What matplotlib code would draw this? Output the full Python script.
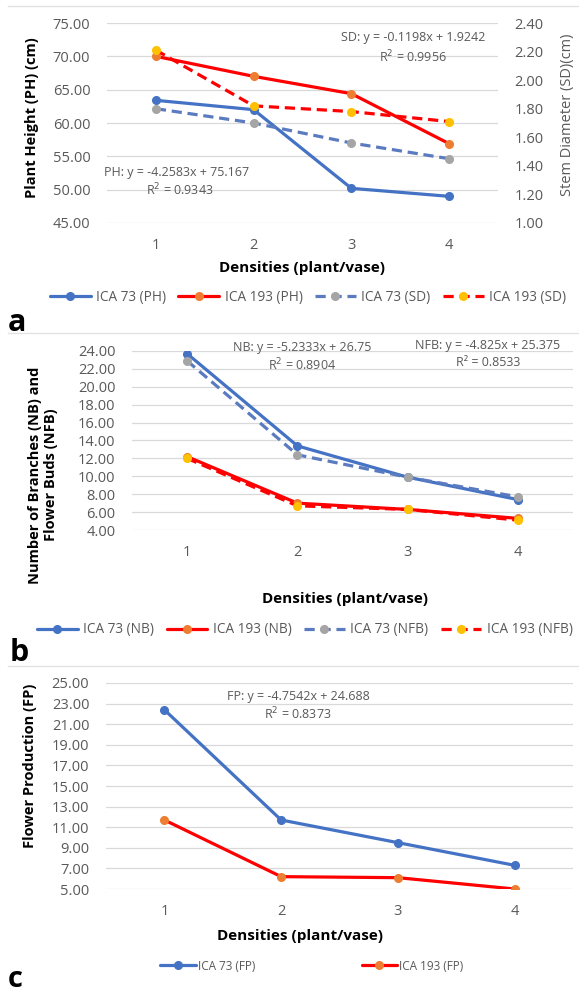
import matplotlib
matplotlib.use('Agg')
import matplotlib.pyplot as plt
from matplotlib.lines import Line2D
from matplotlib.ticker import FormatStrFormatter, FixedLocator
import numpy as np

plt.rcParams['font.family'] = ['Open Sans', 'DejaVu Sans']

# ---------------- data ----------------
densities = ['1', '2', '3', '4']
ph_ica73 = [63.4, 62.0, 50.2, 49.0]
ph_ica193 = [70.0, 67.0, 64.4, 56.9]
sd_ica73 = [1.80, 1.70, 1.56, 1.45]
sd_ica193 = [2.21, 1.82, 1.78, 1.71]
nb_ica73 = [23.7, 13.4, 9.9, 7.4]
nb_ica193 = [12.2, 7.0, 6.3, 5.3]
nfb_ica73 = [22.9, 12.4, 9.9, 7.7]
nfb_ica193 = [12.0, 6.7, 6.3, 5.1]
fp_ica73 = [22.4, 11.7, 9.5, 7.3]
fp_ica193 = [11.7, 6.2, 6.1, 5.0]

ph_ticks = [45, 50, 55, 60, 65, 70, 75]
sd_ticks = [1.0, 1.2, 1.4, 1.6, 1.8, 2.0, 2.2, 2.4]
nb_ticks = [4, 6, 8, 10, 12, 14, 16, 18, 20, 22, 24]
fp_ticks = [5, 7, 9, 11, 13, 15, 17, 19, 21, 23, 25]

# ---------------- style ----------------
BLUE = '#4472C4'
BLUE_D = '#5A7BBF'
RED = '#FF0000'
ORANGE = '#ED7D31'
GRAY = '#A5A5A5'
YELLOW = '#FFC000'
TXT = '#595959'
GRID = '#D9D9D9'

W, H = 579, 996
fig = plt.figure(figsize=(W / 100, H / 100), dpi=100)


def rect(x0, y0, x1, y1):
    return [x0 / W, 1 - y1 / H, (x1 - x0) / W, (y1 - y0) / H]


def fx(x):
    return x / W


def fy(y):
    return 1 - y / H


def style_ax(ax, ticks, ylim, tick_fs=10.5):
    ax.set_xlim(-0.5, 3.5)
    ax.set_ylim(*ylim)
    ax.set_xticks(range(len(densities)))
    ax.set_xticklabels(densities)
    ax.yaxis.set_major_locator(FixedLocator(ticks))
    ax.yaxis.set_major_formatter(FormatStrFormatter('%.2f'))
    ax.grid(axis='y', color=GRID, lw=0.9)
    ax.set_axisbelow(True)
    for s in ax.spines.values():
        s.set_visible(False)
    ax.tick_params(length=0, labelsize=tick_fs, labelcolor=TXT)
    ax.tick_params(axis='y', pad=12)
    ax.tick_params(axis='x', pad=11)


def series(ax, y, lc, mc, dashed=False, label=None):
    x = np.arange(len(densities))
    kw = dict(color=lc, lw=2.3, marker='o', ms=5.5, mfc=mc, mec=mc,
              label=label, zorder=3, solid_capstyle='round')
    if dashed:
        kw['dashes'] = (3.2, 1.8)
    return ax.plot(x, y, **kw)[0]


def border(y):
    fig.add_artist(Line2D([fx(8), fx(579)], [fy(y), fy(y)], color='#E3E3E3', lw=1.0))


# ---------------- panel a ----------------
border(6)
axa = fig.add_axes(rect(107, 23, 498, 223))
style_ax(axa, ph_ticks, (45, 75))
axa2 = axa.twinx()
axa2.set_ylim(1.0, 2.4)
axa2.yaxis.set_major_locator(FixedLocator(sd_ticks))
axa2.yaxis.set_major_formatter(FormatStrFormatter('%.2f'))
for s in axa2.spines.values():
    s.set_visible(False)
axa2.tick_params(length=0, labelsize=10.5, labelcolor=TXT, pad=12)

la1 = series(axa, ph_ica73, BLUE, BLUE, label='ICA 73 (PH)')
la2 = series(axa, ph_ica193, RED, ORANGE, label='ICA 193 (PH)')
la3 = series(axa2, sd_ica73, BLUE_D, GRAY, dashed=True, label='ICA 73 (SD)')
la4 = series(axa2, sd_ica193, RED, YELLOW, dashed=True, label='ICA 193 (SD)')

fig.text(fx(32), fy(118), 'Plant Height (PH) (cm)', rotation=90, ha='center', va='center',
         fontsize=10.5, fontweight='bold', color='black')
fig.text(fx(567), fy(115), 'Stem Diameter (SD)(cm)', rotation=90, ha='center', va='center',
         fontsize=10.5, color=TXT)
fig.text(fx(413), fy(37), 'SD: y = -0.1198x + 1.9242', ha='center', va='center', fontsize=9, color=TXT)
fig.text(fx(413), fy(57), 'R$^2$ = 0.9956', ha='center', va='center', fontsize=9, color=TXT)
fig.text(fx(177), fy(172), 'PH: y = -4.2583x + 75.167', ha='center', va='center', fontsize=9, color=TXT)
fig.text(fx(180), fy(190), 'R$^2$ = 0.9343', ha='center', va='center', fontsize=9, color=TXT)
fig.text(fx(302), fy(268), 'Densities (plant/vase)', ha='center', va='center',
         fontsize=11, fontweight='bold', color='black')
fig.legend(handles=[la1, la2, la3, la4], loc='center', bbox_to_anchor=(fx(308), fy(297)),
           ncol=4, frameon=False, fontsize=9.8, labelcolor=TXT, handlelength=3.0,
           columnspacing=0.9, handletextpad=0.4, borderaxespad=0)
fig.text(fx(8), fy(323), 'a', ha='left', va='center', fontsize=22, fontweight='bold', color='black')

# ---------------- panel b ----------------
border(333)
axb = fig.add_axes(rect(132, 351, 573, 530))
style_ax(axb, nb_ticks, (4, 24))
lb1 = series(axb, nb_ica73, BLUE, BLUE, label='ICA 73 (NB)')
lb2 = series(axb, nb_ica193, RED, ORANGE, label='ICA 193 (NB)')
lb3 = series(axb, nfb_ica73, BLUE_D, GRAY, dashed=True, label='ICA 73 (NFB)')
lb4 = series(axb, nfb_ica193, RED, YELLOW, dashed=True, label='ICA 193 (NFB)')

fig.text(fx(43), fy(475), 'Number of Branches (NB) and\nFlower Buds (NFB)', rotation=90,
         ha='center', va='center', fontsize=10.5, fontweight='bold', color='black',
         multialignment='center', linespacing=1.1)
fig.text(fx(302), fy(347), 'NB: y = -5.2333x + 26.75', ha='center', va='center', fontsize=9, color=TXT)
fig.text(fx(302), fy(365), 'R$^2$ = 0.8904', ha='center', va='center', fontsize=9, color=TXT)
fig.text(fx(488), fy(345), 'NFB: y = -4.825x + 25.375', ha='center', va='center', fontsize=9, color=TXT)
fig.text(fx(488), fy(363), 'R² = 0.8533', ha='center', va='center', fontsize=9, color=TXT)
fig.text(fx(345), fy(599), 'Densities (plant/vase)', ha='center', va='center',
         fontsize=11, fontweight='bold', color='black')
fig.legend(handles=[lb1, lb2, lb3, lb4], loc='center', bbox_to_anchor=(fx(305), fy(630)),
           ncol=4, frameon=False, fontsize=9.8, labelcolor=TXT, handlelength=3.0,
           columnspacing=0.9, handletextpad=0.4, borderaxespad=0)
fig.text(fx(10), fy(653), 'b', ha='left', va='center', fontsize=22, fontweight='bold', color='black')

# ---------------- panel c ----------------
border(666)
axc = fig.add_axes(rect(106, 683, 573, 889))
style_ax(axc, fp_ticks, (5, 25))
lc1 = series(axc, fp_ica73, BLUE, BLUE, label='ICA 73 (FP)')
lc2 = series(axc, fp_ica193, RED, ORANGE, label='ICA 193 (FP)')

fig.text(fx(30), fy(766), 'Flower Production (FP)', rotation=90, ha='center', va='center',
         fontsize=10.5, fontweight='bold', color='black')
fig.text(fx(298), fy(696), 'FP: y = -4.7542x + 24.688', ha='center', va='center', fontsize=9, color=TXT)
fig.text(fx(298), fy(714), 'R$^2$ = 0.8373', ha='center', va='center', fontsize=9, color=TXT)
fig.text(fx(300), fy(936), 'Densities (plant/vase)', ha='center', va='center',
         fontsize=11, fontweight='bold', color='black')
fig.legend(handles=[lc1, lc2], loc='center', bbox_to_anchor=(fx(312), fy(966)),
           ncol=2, frameon=False, fontsize=8.5, labelcolor=TXT, handlelength=3.0,
           columnspacing=9, handletextpad=0.2, borderaxespad=0)
fig.text(fx(8), fy(979), 'c', ha='left', va='center', fontsize=21, fontweight='bold', color='black')

fig.savefig('out.png', dpi=100, facecolor='white')
